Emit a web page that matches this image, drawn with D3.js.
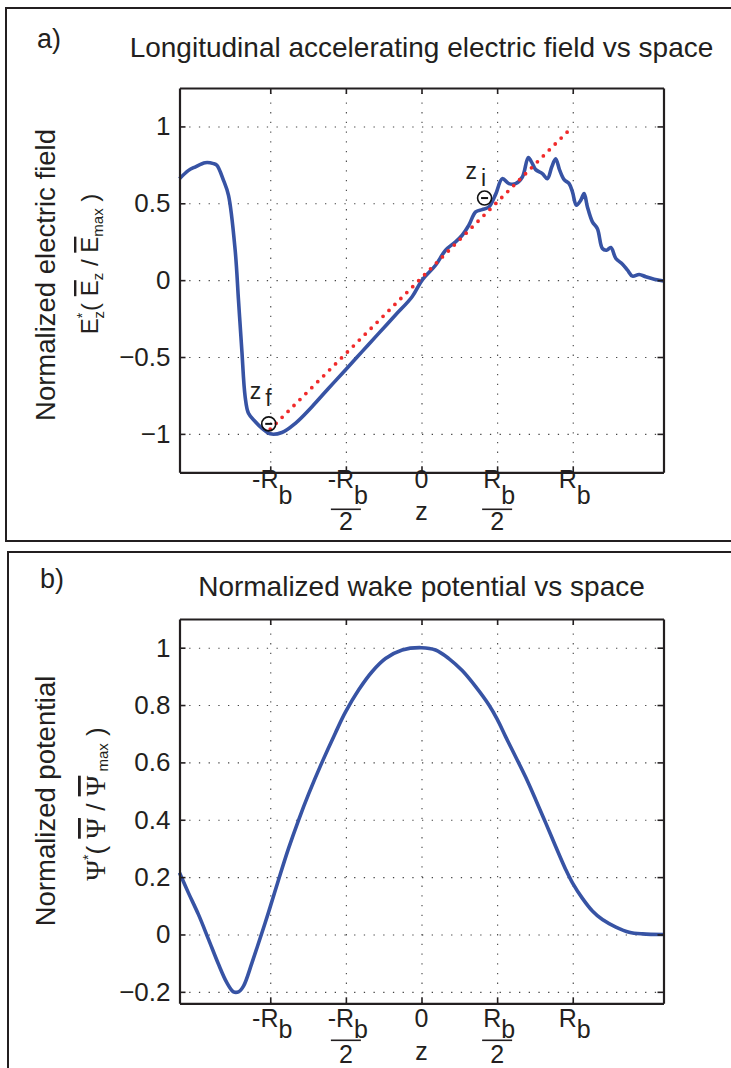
<!DOCTYPE html>
<html>
<head>
<meta charset="utf-8">
<style>
  body { margin: 0; background: #fff; }
  svg { display: block; font-family: "Liberation Sans", Arial, sans-serif; }
</style>
</head>
<body>
<script src="https://cdn.jsdelivr.net/npm/d3@7"></script>
<script>
    // Data (z in units of R_b)
    let zRange = [-1.6, 1.6];
    let xTickVals = [-1, -0.5, 0, 0.5, 1];
    let xTickTop = ["-R", "-R", "0", "R", "R"];
    let xTickSub = ["b", "b", "", "b", "b"];
    let xTickDen = ["", "2", "", "2", ""];

    let fieldTicks = [-1, -0.5, 0, 0.5, 1];
    let fieldRange = [-1.25, 1.25];
    let fieldZ = [-1.6, -1.54, -1.497, -1.43, -1.375, -1.353, -1.309, -1.276, -1.232, -1.21, -1.188, -1.166,
        -1.144, -1.1, -1.056, -1.0, -0.923, -0.834, -0.724, -0.614, -0.503, -0.393, -0.283, -0.172, -0.062,
        0.004, 0.093, 0.159, 0.225, 0.269, 0.313, 0.358, 0.401, 0.446, 0.49, 0.534, 0.578, 0.622, 0.667,
        0.706, 0.733, 0.755, 0.799, 0.832, 0.861, 0.887, 0.914, 0.943, 0.976, 0.998, 1.024, 1.053, 1.075,
        1.097, 1.13, 1.163, 1.196, 1.223, 1.252, 1.285, 1.329, 1.362, 1.395, 1.439, 1.483, 1.538, 1.6];
    let fieldE = [0.66, 0.714, 0.736, 0.764, 0.758, 0.747, 0.649, 0.552, 0.195, -0.13, -0.455, -0.758,
        -0.866, -0.92, -0.963, -1.0, -0.991, -0.931, -0.823, -0.703, -0.584, -0.465, -0.346, -0.227, -0.108,
        0.0, 0.097, 0.195, 0.249, 0.292, 0.357, 0.444, 0.459, 0.476, 0.558, 0.66, 0.628, 0.628, 0.671,
        0.797, 0.758, 0.719, 0.693, 0.66, 0.736, 0.79, 0.714, 0.654, 0.628, 0.574, 0.487, 0.52, 0.563,
        0.476, 0.379, 0.335, 0.206, 0.195, 0.212, 0.141, 0.104, 0.065, 0.026, 0.037, 0.022, 0.006, -0.005];
    let linearZ = [-1.0, 0.98];
    let linearE = [-0.97, 0.98];
    let electronZ = [-1.01, 0.417];
    let electronE = [-0.935, 0.534];
    let electronName = ["f", "i"];

    let potTicks = [-0.2, 0, 0.2, 0.4, 0.6, 0.8, 1];
    let potRange = [-0.24, 1.1];
    let potZ = [-1.6, -1.541, -1.475, -1.408, -1.342, -1.287, -1.243, -1.21, -1.177, -1.121, -1.055, -1.011,
        -0.945, -0.879, -0.812, -0.746, -0.658, -0.57, -0.503, -0.415, -0.327, -0.238, -0.128, 0, 0.093,
        0.181, 0.269, 0.358, 0.446, 0.501, 0.556, 0.623, 0.689, 0.755, 0.821, 0.887, 0.954, 0.998, 1.064,
        1.13, 1.196, 1.285, 1.373, 1.461, 1.6];
    let potPsi = [0.215, 0.145, 0.07, -0.017, -0.104, -0.168, -0.2, -0.2, -0.18, -0.099, 0.006, 0.078,
        0.191, 0.3, 0.4, 0.49, 0.6, 0.702, 0.775, 0.853, 0.916, 0.962, 0.992, 1.0, 0.992,
        0.962, 0.92, 0.864, 0.8, 0.75, 0.69, 0.619, 0.548, 0.47, 0.389, 0.307, 0.226, 0.18, 0.126,
        0.082, 0.052, 0.026, 0.008, 0.002, 0];

    // Set up SVG
    let width = 731, height = 1068;
    let left = 179.5, right = 663.5;
    let ink = "#231f20";
    let blue = "#3753a4";

    let svg = d3.select("body")
        .append("svg")
        .attr("width", width)
        .attr("height", height);

    // Panel frames
    svg.append("path").attr("d", "M745,8H6V541H745")
        .attr("fill", "none").attr("stroke", ink).attr("stroke-width", 2);
    svg.append("path").attr("d", "M745,552H8V1080")
        .attr("fill", "none").attr("stroke", ink).attr("stroke-width", 2);

    function drawAxes(top, bottom, yDomain, yTickVals, labelOff) {
        let x = d3.scaleLinear().domain(zRange).range([left, right]);
        let y = d3.scaleLinear().domain(yDomain).range([bottom, top]);
        let g = svg.append("g");
        let h = bottom - top, w = right - left;

        // dotted grid
        let grid = g.append("g");
        grid.append("g").attr("transform", `translate(0,${bottom})`)
            .call(d3.axisBottom(x).tickValues(xTickVals).tickSize(-h).tickFormat(""));
        grid.append("g").attr("transform", `translate(${left},0)`)
            .call(d3.axisLeft(y).tickValues(yTickVals).tickSize(-w).tickFormat(""));
        grid.selectAll(".domain").remove();
        grid.selectAll("line").attr("stroke", "#444").attr("stroke-width", 1.1)
            .attr("stroke-dasharray", "1.3,8.4");

        return { g, x, y, top, bottom, labelOff };
    }

    function drawBox(ax, yTickVals) {
        let { g, x, y, top, bottom } = ax;
        let box = g.append("g");
        box.append("g").attr("transform", `translate(0,${bottom})`)
            .call(d3.axisBottom(x).tickValues(xTickVals).tickSize(-6).tickSizeOuter(0).tickFormat(""));
        box.append("g").attr("transform", `translate(0,${top})`)
            .call(d3.axisTop(x).tickValues(xTickVals).tickSize(-6).tickSizeOuter(0).tickFormat(""));
        box.append("g").attr("transform", `translate(${left},0)`)
            .call(d3.axisLeft(y).tickValues(yTickVals).tickSize(-6).tickSizeOuter(0)
                .tickPadding(9).tickFormat(d3.format("")));
        box.append("g").attr("transform", `translate(${right},0)`)
            .call(d3.axisRight(y).tickValues(yTickVals).tickSize(-6).tickSizeOuter(0).tickFormat(""));
        box.selectAll(".domain").attr("stroke", ink).attr("stroke-width", 2.2);
        box.selectAll(".tick line").attr("stroke", ink).attr("stroke-width", 1.6);
        box.selectAll(".tick text").attr("fill", ink).attr("font-size", 26)
            .attr("font-family", "'Liberation Sans', Arial, sans-serif");

        // x tick labels: R_b and fractions of it
        let o = ax.labelOff;
        xTickVals.forEach((v, i) => {
            let cx = x(v);
            let t = g.append("text").attr("x", cx + (xTickSub[i] ? 2 : 0)).attr("y", bottom + o.num)
                .attr("text-anchor", "middle").attr("font-size", 25).attr("fill", ink);
            t.append("tspan").text(xTickTop[i]);
            if (xTickSub[i]) t.append("tspan").attr("dy", o.sub).text(xTickSub[i]);
            if (xTickDen[i]) {
                g.append("line").attr("x1", cx - 15).attr("x2", cx + 15)
                    .attr("y1", bottom + o.bar).attr("y2", bottom + o.bar)
                    .attr("stroke", ink).attr("stroke-width", 1.6);
                g.append("text").attr("x", cx).attr("y", bottom + o.den)
                    .attr("text-anchor", "middle").attr("font-size", 25).attr("fill", ink)
                    .text(xTickDen[i]);
            }
        });
        g.append("text").attr("x", x(0)).attr("y", bottom + o.z)
            .attr("text-anchor", "middle").attr("font-size", 25).attr("fill", ink).text("z");
    }

    // ---------- Panel a ----------
    let a = drawAxes(88, 472.3, fieldRange, fieldTicks, { num: 16, sub: 16, bar: 37, den: 58, z: 48 });

    a.g.append("path")
        .datum(fieldZ.map((z, i) => [z, fieldE[i]]))
        .attr("fill", "none").attr("stroke", blue).attr("stroke-width", 3.6)
        .attr("stroke-linejoin", "round")
        .attr("d", d3.line().x(d => a.x(d[0])).y(d => a.y(d[1])).curve(d3.curveCatmullRom));

    a.g.append("path")
        .datum(linearZ.map((z, i) => [z, linearE[i]]))
        .attr("fill", "none").attr("stroke", "#f02a2a").attr("stroke-width", 3.8)
        .attr("stroke-linecap", "round").attr("stroke-dasharray", "0,8.4")
        .attr("d", d3.line().x(d => a.x(d[0])).y(d => a.y(d[1])));

    let labelLift = [25, 19];
    electronZ.forEach((z, i) => {
        let cx = a.x(z), cy = a.y(electronE[i]);
        a.g.append("circle").attr("cx", cx).attr("cy", cy).attr("r", 7)
            .attr("fill", "none").attr("stroke", "#111").attr("stroke-width", 1.6);
        a.g.append("line").attr("x1", cx - 3.5).attr("x2", cx + 3.5).attr("y1", cy).attr("y2", cy)
            .attr("stroke", "#111").attr("stroke-width", 2);
        let t = a.g.append("text").attr("x", cx - 19).attr("y", cy - labelLift[i])
            .attr("font-size", 23).attr("fill", ink);
        t.append("tspan").text("z");
        t.append("tspan").attr("dx", 4).attr("dy", 7).text(electronName[i]);
    });

    drawBox(a, fieldTicks);

    svg.append("text").attr("x", 37).attr("y", 48).attr("font-size", 27).attr("fill", ink).text("a)");
    svg.append("text").attr("x", 421.5).attr("y", 57).attr("text-anchor", "middle")
        .attr("font-size", 28).attr("fill", ink).text("Longitudinal accelerating electric field vs space");

    svg.append("text").attr("transform", "translate(55,275) rotate(-90)")
        .attr("text-anchor", "middle").attr("font-size", 27.5).attr("fill", ink)
        .text("Normalized electric field");

    let ea = svg.append("text").attr("transform", "translate(98,264) rotate(-90)")
        .attr("text-anchor", "middle").attr("font-size", 24).attr("fill", ink);
    ea.append("tspan").text("E");
    ea.append("tspan").attr("font-size", 14).attr("dy", -11).text("*");
    ea.append("tspan").attr("font-size", 15).attr("dx", -5.5).attr("dy", 17).text("z");
    ea.append("tspan").attr("dy", -6).text("( ");
    ea.append("tspan").attr("text-decoration", "overline").text("E");
    ea.append("tspan").attr("font-size", 15).attr("dy", 5).text("z");
    ea.append("tspan").attr("dy", -5).text(" / ");
    ea.append("tspan").attr("text-decoration", "overline").text("E");
    ea.append("tspan").attr("font-size", 15).attr("dy", 5).text("max");
    ea.append("tspan").attr("dy", -5).text("   )");

    // ---------- Panel b ----------
    let b = drawAxes(619, 1003.3, potRange, potTicks, { num: 24, sub: 11, bar: 37, den: 60, z: 57 });

    b.g.append("path")
        .datum(potZ.map((z, i) => [z, potPsi[i]]))
        .attr("fill", "none").attr("stroke", blue).attr("stroke-width", 3.6)
        .attr("stroke-linejoin", "round")
        .attr("d", d3.line().x(d => b.x(d[0])).y(d => b.y(d[1])).curve(d3.curveCatmullRom));

    drawBox(b, potTicks);

    svg.append("text").attr("x", 40).attr("y", 588).attr("font-size", 27).attr("fill", ink).text("b)");
    svg.append("text").attr("x", 421.5).attr("y", 596).attr("text-anchor", "middle")
        .attr("font-size", 28).attr("fill", ink).text("Normalized wake potential vs space");

    svg.append("text").attr("transform", "translate(55,801) rotate(-90)")
        .attr("text-anchor", "middle").attr("font-size", 27.5).attr("fill", ink)
        .text("Normalized potential");

    let pb = svg.append("text").attr("transform", "translate(105,804) rotate(-90)")
        .attr("text-anchor", "middle").attr("font-size", 26).attr("fill", ink);
    pb.append("tspan").attr("font-family", "'Liberation Serif', serif").attr("font-size", 28).text("\u03A8");
    pb.append("tspan").attr("font-size", 14).attr("dy", -12).text("*");
    pb.append("tspan").attr("dy", 12).text("( ");
    pb.append("tspan").attr("font-family", "'Liberation Serif', serif").attr("font-size", 28)
        .attr("text-decoration", "overline").text("\u03A8");
    pb.append("tspan").text(" / ");
    pb.append("tspan").attr("font-family", "'Liberation Serif', serif").attr("font-size", 28)
        .attr("text-decoration", "overline").text("\u03A8");
    pb.append("tspan").attr("font-size", 15).attr("dy", 3).text(" max");
    pb.append("tspan").attr("dy", -3).text(" )");
</script>
</body>
</html>
